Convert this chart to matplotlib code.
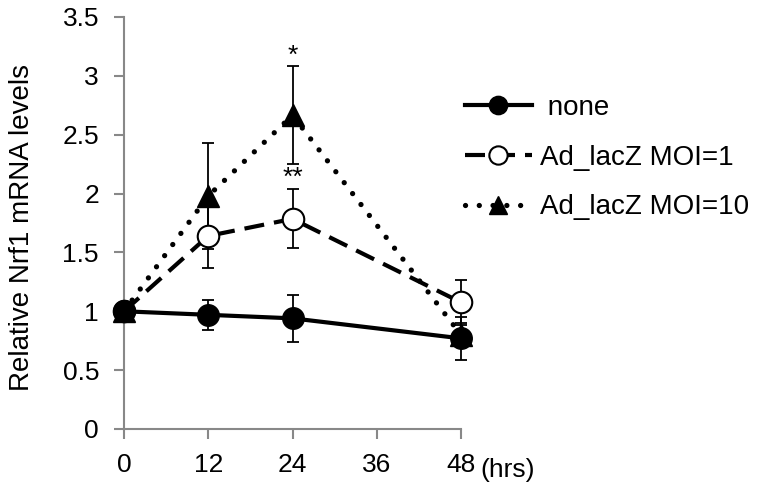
import numpy as np
import matplotlib
matplotlib.use("Agg")
import matplotlib.pyplot as plt

plt.rcParams['font.family'] = ['Liberation Sans', 'DejaVu Sans']

# data
hours = [0, 12, 24, 48]
none_vals = [1.0, 0.97, 0.94, 0.77]
none_err = [0.0, 0.13, 0.20, 0.18]
moi1_vals = [1.0, 1.64, 1.785, 1.076]
moi1_err = [0.0, 0.27, 0.25, 0.19]
moi10_vals = [1.0, 1.98, 2.665, 0.80]
moi10_err = [0.0, 0.45, 0.415, 0.10]

xticks = [0, 12, 24, 36, 48]
yticks = [0, 0.5, 1, 1.5, 2, 2.5, 3, 3.5]
ytick_labels = ['0', '0.5', '1', '1.5', '2', '2.5', '3', '3.5']

stars = ['*', '**']
star_x = [24, 24]
star_y = [3.17, 2.13]

fig = plt.figure(figsize=(7.62, 4.88), dpi=100)
ax = fig.add_axes([124/762, 59/488, 337/762, 412/488])

grey = '#888888'

# error bars first, underneath the markers
for vals, err in [(none_vals, none_err), (moi1_vals, moi1_err), (moi10_vals, moi10_err)]:
    ax.errorbar(hours, vals, yerr=err, fmt='none', ecolor='black',
                elinewidth=1.3, capsize=4, capthick=1.3, zorder=2, clip_on=False)

ax.plot(hours, moi10_vals, color='black', lw=3.8, linestyle=(0, (0.01, 2.6)),
        dash_capstyle='round', marker='^', ms=15.5, mfc='black', mec='black',
        label='Ad_lacZ MOI=10', zorder=3, clip_on=False)
ax.plot(hours, moi1_vals, color='black', lw=3.0, linestyle=(0, (4.8, 2.4)),
        marker='o', ms=15.5, mfc='white', mec='black', mew=1.5,
        label='Ad_lacZ MOI=1', zorder=4, clip_on=False)
ax.plot(hours, none_vals, color='black', lw=3.0, linestyle='-',
        marker='o', ms=15.5, mfc='black', mec='black',
        label=' none', zorder=5, clip_on=False)

for s, x, y in zip(stars, star_x, star_y):
    ax.text(x, y, s, ha='center', va='center', fontsize=19)

ax.set_xlim(0, 48)
ax.set_ylim(0, 3.5)
ax.set_xticks(xticks)
ax.set_xticklabels([str(t) for t in xticks])
ax.set_yticks(yticks)
ax.set_yticklabels(ytick_labels)
ax.text(1.057, -0.1, '(hrs)', transform=ax.transAxes, ha='left', va='center', fontsize=19)

for side in ['top', 'right']:
    ax.spines[side].set_visible(False)
for side in ['left', 'bottom']:
    ax.spines[side].set_color(grey)
    ax.spines[side].set_linewidth(1.5)
ax.tick_params(axis='both', colors=grey, labelcolor='black', width=1.5,
               length=7, labelsize=19)
ax.tick_params(axis='y', pad=11)
ax.tick_params(axis='x', pad=10)

ax.set_ylabel('Relative Nrf1 mRNA levels', fontsize=20)
ax.yaxis.set_label_coords(-0.265, 0.49)

h, l = ax.get_legend_handles_labels()
fig.legend(h[::-1], l[::-1], loc='upper left', bbox_to_anchor=(440/762, 1 - 70/488),
           frameon=False, fontsize=20, handlelength=2.4, handletextpad=0.3,
           labelspacing=0.85, markerscale=0.85)

fig.savefig('out.png', dpi=100)
